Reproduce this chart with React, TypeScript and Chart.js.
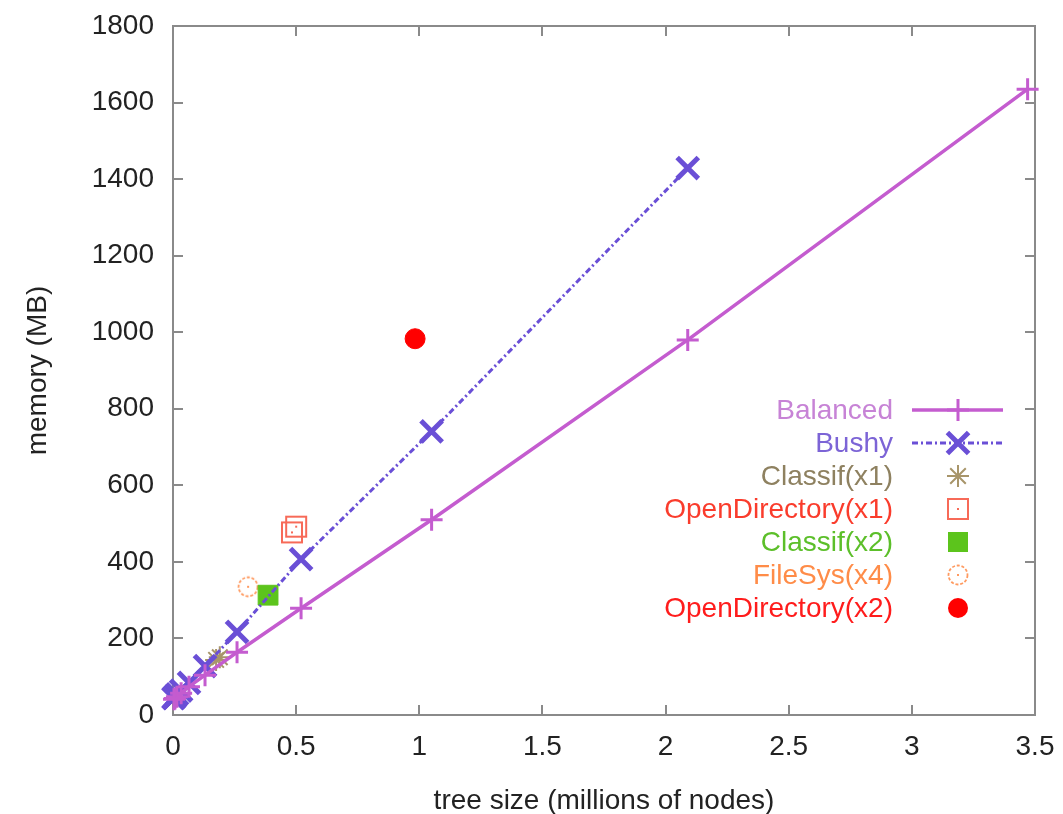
import React, { useEffect, useRef } from "react";
import { Chart, registerables } from "chart.js";

Chart.register(...registerables);

// Tree size in millions of nodes, memory in MB
const balancedX = [3.47, 2.09, 1.05, 0.52, 0.26, 0.13, 0.065, 0.033, 0.016, 0.008, 0.004];
const balancedY = [1635, 980, 510, 279, 164, 104, 74, 57, 48, 43, 41];

const bushyX = [2.09, 1.05, 0.52, 0.26, 0.13, 0.065, 0.033, 0.016, 0.008, 0.004, 0.002];
const bushyY = [1429, 741, 407, 217, 128, 84, 64, 54, 48, 45, 44];

const classif1X = [0.19, 0.175];
const classif1Y = [151, 144];

const openDir1X = [0.483, 0.5];
const openDir1Y = [477, 492];

const classif2X = [0.386];
const classif2Y = [313];

const fileSys4X = [0.305];
const fileSys4Y = [335];

const openDir2X = [0.983];
const openDir2Y = [983];

const seriesLabels = [
  "Balanced",
  "Bushy",
  "Classif(x1)",
  "OpenDirectory(x1)",
  "Classif(x2)",
  "FileSys(x4)",
  "OpenDirectory(x2)",
];

const xAxisTitle = "tree size (millions of nodes)";
const yAxisTitle = "memory (MB)";

const FONT = "'Liberation Sans', Arial, Helvetica, sans-serif";
const FRAME = "#8a8a8a";
const BUSHY_DASH = [6, 3, 2, 3];

const C = {
  balanced: "#c45ccf",
  balancedText: "#c783d6",
  bushy: "#6a4fd6",
  bushyText: "#7c64d6",
  classif1: "#a8956a",
  classif1Text: "#8e8160",
  openDir1: "#f76a58",
  openDir1Text: "#fa3c2c",
  classif2: "#5cc41c",
  classif2Text: "#5cbf2a",
  fileSys: "#ff9a60",
  fileSysText: "#ff8c48",
  openDir2: "#ff0000",
  openDir2Text: "#ff1c1c",
};

const pts = (xs: number[], ys: number[]) => xs.map((x, i) => ({ x, y: ys[i] }));

function openSquare(color: string): HTMLCanvasElement {
  const c = document.createElement("canvas");
  c.width = 26;
  c.height = 26;
  const g = c.getContext("2d")!;
  g.strokeStyle = color;
  g.lineWidth = 2;
  g.strokeRect(3, 3, 20, 20);
  g.fillStyle = color;
  g.fillRect(12, 12, 2, 2);
  return c;
}

function dottedCircle(color: string): HTMLCanvasElement {
  const c = document.createElement("canvas");
  c.width = 26;
  c.height = 26;
  const g = c.getContext("2d")!;
  g.strokeStyle = color;
  g.lineWidth = 1.8;
  g.setLineDash([3, 1.8]);
  g.beginPath();
  g.arc(13, 13, 9.5, 0, Math.PI * 2);
  g.stroke();
  g.fillStyle = color;
  g.fillRect(12, 12, 2, 2);
  return c;
}

function drawCross(g: CanvasRenderingContext2D, x: number, y: number, r: number, rot: boolean) {
  g.beginPath();
  if (rot) {
    const d = r * Math.SQRT1_2;
    g.moveTo(x - d, y - d);
    g.lineTo(x + d, y + d);
    g.moveTo(x - d, y + d);
    g.lineTo(x + d, y - d);
  } else {
    g.moveTo(x - r, y);
    g.lineTo(x + r, y);
    g.moveTo(x, y - r);
    g.lineTo(x, y + r);
  }
  g.stroke();
}

const plainNumber = (v: any) => String(v);

export default function App() {
  const canvasRef = useRef<HTMLCanvasElement | null>(null);

  useEffect(() => {
    const canvas = canvasRef.current;
    if (!canvas) return;

    const odSquare = openSquare(C.openDir1);
    const fsCircle = dottedCircle(C.fileSys);

    // Box border with inward ticks on all four sides
    const framePlugin = {
      id: "frameTicks",
      beforeDatasetsDraw(chart: any) {
        const { ctx, chartArea: a, scales } = chart;
        ctx.save();
        ctx.strokeStyle = FRAME;
        ctx.lineWidth = 2;
        ctx.strokeRect(a.left, a.top, a.right - a.left, a.bottom - a.top);
        ctx.beginPath();
        scales.y.ticks.forEach((t: any) => {
          const py = Math.round(scales.y.getPixelForValue(t.value));
          ctx.moveTo(a.left, py);
          ctx.lineTo(a.left + 10, py);
          ctx.moveTo(a.right, py);
          ctx.lineTo(a.right - 10, py);
        });
        scales.x.ticks.forEach((t: any) => {
          const px = Math.round(scales.x.getPixelForValue(t.value));
          ctx.moveTo(px, a.bottom);
          ctx.lineTo(px, a.bottom - 10);
          ctx.moveTo(px, a.top);
          ctx.lineTo(px, a.top + 10);
        });
        ctx.stroke();
        ctx.restore();
      },
    };

    // Key in the lower right, text right-aligned with the sample on its right
    const keyPlugin = {
      id: "key",
      afterDraw(chart: any) {
        const { ctx, chartArea: a } = chart;
        const textRight = a.right - 142;
        const lineL = a.right - 123;
        const lineR = a.right - 32;
        const mx = a.right - 77;
        const textColors = [
          C.balancedText,
          C.bushyText,
          C.classif1Text,
          C.openDir1Text,
          C.classif2Text,
          C.fileSysText,
          C.openDir2Text,
        ];
        ctx.save();
        ctx.font = `28px ${FONT}`;
        ctx.textAlign = "right";
        ctx.textBaseline = "middle";
        seriesLabels.forEach((label, i) => {
          const y = a.top + 384 + i * 33;
          ctx.fillStyle = textColors[i];
          ctx.fillText(label, textRight, y + 1);
          ctx.setLineDash([]);
          if (i === 0) {
            ctx.strokeStyle = C.balanced;
            ctx.lineWidth = 3.5;
            ctx.beginPath();
            ctx.moveTo(lineL, y);
            ctx.lineTo(lineR, y);
            ctx.stroke();
            ctx.lineWidth = 3;
            drawCross(ctx, mx, y, 11, false);
          } else if (i === 1) {
            ctx.strokeStyle = C.bushy;
            ctx.lineWidth = 3;
            ctx.setLineDash(BUSHY_DASH);
            ctx.beginPath();
            ctx.moveTo(lineL, y);
            ctx.lineTo(lineR, y);
            ctx.stroke();
            ctx.setLineDash([]);
            ctx.lineWidth = 5;
            drawCross(ctx, mx, y, 15, true);
          } else if (i === 2) {
            ctx.strokeStyle = C.classif1;
            ctx.lineWidth = 2;
            drawCross(ctx, mx, y, 11, false);
            drawCross(ctx, mx, y, 11, true);
          } else if (i === 3) {
            ctx.drawImage(odSquare, mx - 13, y - 13);
          } else if (i === 4) {
            ctx.fillStyle = C.classif2;
            ctx.fillRect(mx - 10, y - 10, 20, 20);
          } else if (i === 5) {
            ctx.drawImage(fsCircle, mx - 13, y - 13);
          } else {
            ctx.fillStyle = C.openDir2;
            ctx.beginPath();
            ctx.arc(mx, y, 10, 0, Math.PI * 2);
            ctx.fill();
          }
        });
        ctx.restore();
      },
    };

    const chart = new Chart(canvas, {
      type: "scatter",
      data: {
        datasets: [
          {
            label: seriesLabels[0],
            data: pts(balancedX, balancedY),
            showLine: true,
            borderColor: C.balanced,
            backgroundColor: C.balanced,
            borderWidth: 3.5,
            pointStyle: "cross",
            pointRadius: 11,
            pointBorderWidth: 3,
            pointBorderColor: C.balanced,
            clip: false,
          },
          {
            label: seriesLabels[1],
            data: pts(bushyX, bushyY),
            showLine: true,
            borderColor: C.bushy,
            backgroundColor: C.bushy,
            borderWidth: 3,
            borderDash: BUSHY_DASH,
            pointStyle: "crossRot",
            pointRadius: 15,
            pointBorderWidth: 5,
            pointBorderColor: C.bushy,
            clip: false,
          },
          {
            label: seriesLabels[2],
            data: pts(classif1X, classif1Y),
            pointStyle: "star",
            pointRadius: 11,
            pointBorderWidth: 2,
            pointBorderColor: C.classif1,
            backgroundColor: C.classif1,
            clip: false,
          },
          {
            label: seriesLabels[3],
            data: pts(openDir1X, openDir1Y),
            pointStyle: odSquare,
            pointRadius: 10,
            clip: false,
          },
          {
            label: seriesLabels[4],
            data: pts(classif2X, classif2Y),
            pointStyle: "rect",
            pointRadius: 14,
            pointBorderWidth: 1,
            pointBorderColor: C.classif2,
            backgroundColor: C.classif2,
            clip: false,
          },
          {
            label: seriesLabels[5],
            data: pts(fileSys4X, fileSys4Y),
            pointStyle: fsCircle,
            pointRadius: 10,
            clip: false,
          },
          {
            label: seriesLabels[6],
            data: pts(openDir2X, openDir2Y),
            pointStyle: "circle",
            pointRadius: 10,
            pointBorderWidth: 1,
            pointBorderColor: C.openDir2,
            backgroundColor: C.openDir2,
            clip: false,
          },
        ],
      },
      options: {
        responsive: false,
        animation: false,
        events: [],
        layout: { padding: { top: 26, right: 28, left: 0, bottom: 0 } },
        plugins: {
          legend: { display: false },
          tooltip: { enabled: false },
        },
        scales: {
          x: {
            type: "linear",
            min: 0,
            max: 3.5,
            grid: { display: false, drawTicks: false },
            border: { display: false },
            ticks: {
              stepSize: 0.5,
              color: "#222",
              font: { family: FONT, size: 28 },
              padding: 15,
              maxRotation: 0,
              callback: plainNumber,
            },
            title: {
              display: true,
              text: xAxisTitle,
              color: "#222",
              font: { family: FONT, size: 28 },
              padding: { top: 0, bottom: -4 },
            },
            afterFit(scale: any) {
              scale.height = 99;
              scale.paddingLeft = 0;
              scale.paddingRight = 0;
            },
          },
          y: {
            type: "linear",
            min: 0,
            max: 1800,
            grid: { display: false, drawTicks: false },
            border: { display: false },
            ticks: {
              stepSize: 200,
              color: "#222",
              font: { family: FONT, size: 28 },
              padding: 19,
              callback: plainNumber,
            },
            title: {
              display: true,
              text: yAxisTitle,
              color: "#222",
              font: { family: FONT, size: 28 },
              padding: { top: 21, bottom: 0 },
            },
            afterFit(scale: any) {
              scale.width = 173;
              scale.paddingTop = 0;
              scale.paddingBottom = 0;
            },
          },
        },
      },
      plugins: [framePlugin, keyPlugin],
    } as any);

    return () => chart.destroy();
  }, []);

  return (
    <div style={{ position: "fixed", left: 0, top: 0, width: 1063, height: 814, background: "#fff" }}>
      <canvas ref={canvasRef} width={1063} height={814} />
    </div>
  );
}
